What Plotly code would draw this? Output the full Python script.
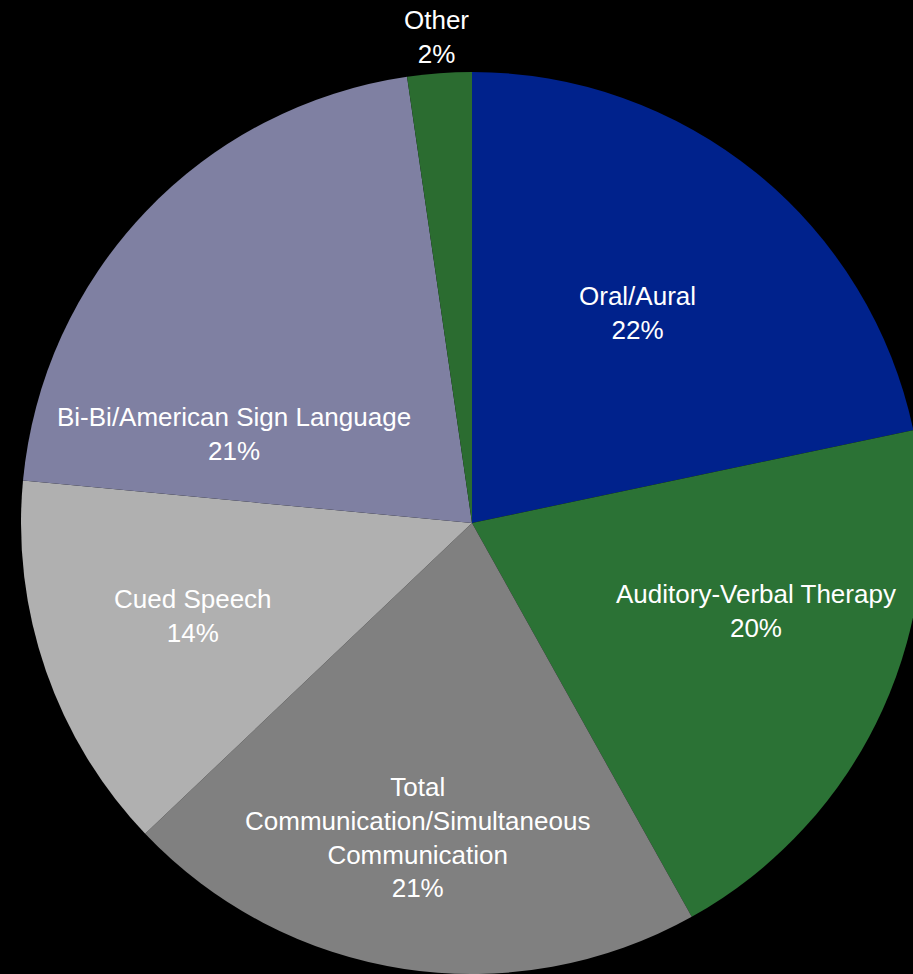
import plotly.graph_objects as go

# ---- data ----
categories = [
    "Oral/Aural",
    "Auditory-Verbal Therapy",
    "Total Communication/Simultaneous Communication",
    "Cued Speech",
    "Bi-Bi/American Sign Language",
    "Other",
]
label_text = [
    "Oral/Aural",
    "Auditory-Verbal Therapy",
    "Total<br>Communication/Simultaneous<br>Communication",
    "Cued Speech",
    "Bi-Bi/American Sign Language",
    "Other",
]
values = [21.7, 20.2, 21.0, 13.6, 21.2, 2.3]

# ---- style ----
colors = ["#00228c", "#2b7235", "#808080", "#b0b0b0", "#7f80a2", "#2b6c30"]
# label centres in pixels (layout positions, not data)
label_px = [(637, 313), (756, 611), (417, 837), (193, 616), (234, 434), (436, 37)]

W, H = 930, 974
cx, cy, R = 472, 523, 451

total = sum(values)
pcts = [f"{round(v / total * 100)}%" for v in values]

fig = go.Figure(
    go.Pie(
        labels=categories,
        values=values,
        sort=False,
        direction="clockwise",
        rotation=0,
        marker=dict(colors=colors, line=dict(width=0)),
        textinfo="none",
        hoverinfo="label+percent",
        showlegend=False,
        domain=dict(x=[(cx - R) / W, (cx + R) / W], y=[(H - cy - R) / H, (H - cy + R) / H]),
    )
)

for txt, pct, (px, py) in zip(label_text, pcts, label_px):
    fig.add_annotation(
        x=px / W, y=1 - py / H, xref="paper", yref="paper",
        text=f"{txt}<br>{pct}", showarrow=False,
        font=dict(family="Liberation Sans, Arial, sans-serif", size=26, color="white"),
        xanchor="center", yanchor="middle", align="center",
    )

fig.update_layout(
    width=W, height=H,
    margin=dict(l=0, r=0, t=0, b=0),
    paper_bgcolor="black", plot_bgcolor="black",
)

fig.write_html(
    "out.html",
    config={"displayModeBar": False},
    post_script="document.body.style.margin='0';document.body.style.overflow='hidden';document.documentElement.style.overflow='hidden';",
)
